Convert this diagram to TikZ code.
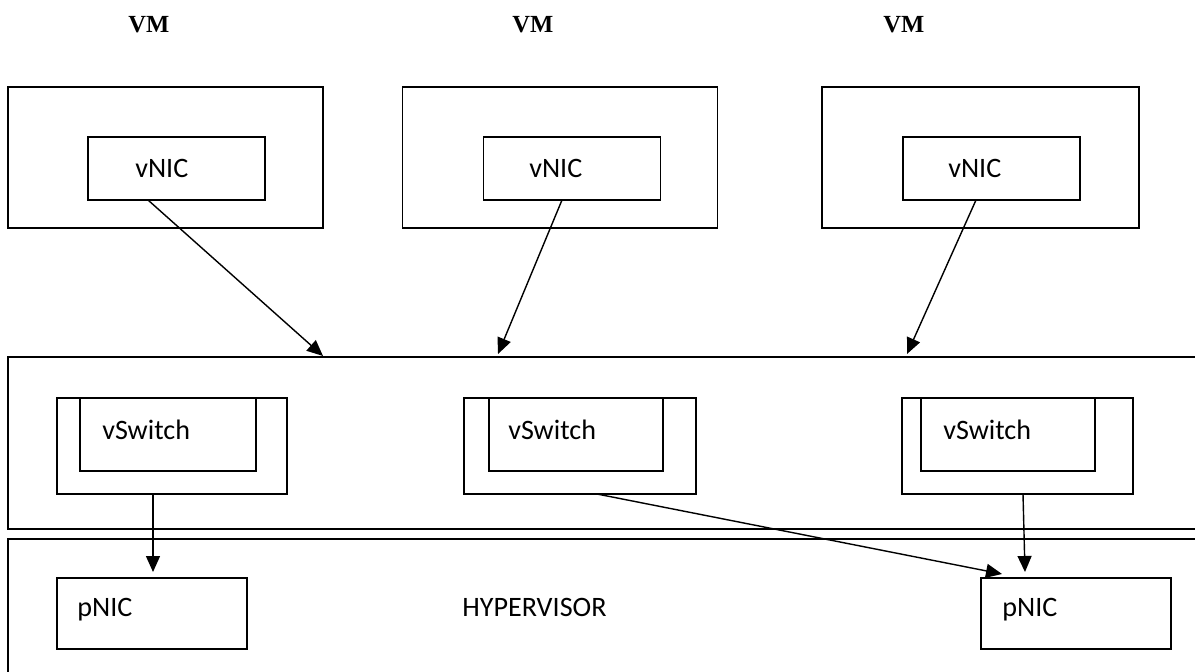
\documentclass[tikz,border=0pt]{standalone}
\usepackage{fontspec}
\setmainfont{Carlito}
\newfontfamily\vmfont{Liberation Serif}
\usetikzlibrary{arrows.meta}

\tikzset{
    box/.style = {draw, shape = rectangle, line width = 1pt, inner sep = 0pt, outer sep = 0pt},
    txt/.style = {anchor = base west, inner sep = 0pt, font = \fontsize{16}{19}\selectfont},
    vmtxt/.style = {anchor = base west, inner sep = 0pt, font = \vmfont\bfseries\fontsize{14}{17}\selectfont},
    arrow/.style = {line width = 0.8pt, -{Triangle[length = 3.2mm, width = 2.8mm]}}
}

\begin{document}
\begin{tikzpicture}
    \useasboundingbox (0,0) rectangle (23.9,-13.42);
    \clip (0,0) rectangle (23.9,-13.42);

    % virtual machines
    \node (VM1) [vmtxt] at (2.56,-0.64) {VM};
    \node (VM2) [vmtxt] at (10.24,-0.64) {VM};
    \node (VM3) [vmtxt] at (17.66,-0.64) {VM};
    \node [box, minimum width = 6.3cm, minimum height = 2.82cm] (vm1) at (3.31,-3.15) {};
    \node [box, minimum width = 6.3cm, minimum height = 2.82cm] (vm2) at (11.2,-3.15) {};
    \node [box, minimum width = 6.34cm, minimum height = 2.82cm] (vm3) at (19.61,-3.15) {};
    \node [box, minimum width = 3.54cm, minimum height = 1.26cm] (vnic1) at (3.53,-3.37) {};
    \node (NIC1) [txt] at (2.7,-3.54) {vNIC};
    \node [box, minimum width = 3.54cm, minimum height = 1.26cm] (vnic2) at (11.44,-3.37) {};
    \node (NIC2) [txt] at (10.58,-3.54) {vNIC};
    \node [box, minimum width = 3.54cm, minimum height = 1.26cm] (vnic3) at (19.83,-3.37) {};
    \node (NIC3) [txt] at (18.96,-3.54) {vNIC};

    % switch layer
    \node [box, minimum width = 24.14cm, minimum height = 3.44cm] (host) at (12.23,-8.86) {};
    \node [box, minimum width = 4.6cm, minimum height = 1.92cm] (sw1) at (3.44,-8.92) {};
    \node [box, minimum width = 3.52cm, minimum height = 1.46cm] (isw1) at (3.36,-8.69) {};
    \node (SW1) [txt] at (2.04,-8.78) {vSwitch};
    \node [box, minimum width = 4.64cm, minimum height = 1.92cm] (sw2) at (11.6,-8.92) {};
    \node [box, minimum width = 3.48cm, minimum height = 1.46cm] (isw2) at (11.52,-8.69) {};
    \node (SW2) [txt] at (10.16,-8.78) {vSwitch};
    \node [box, minimum width = 4.62cm, minimum height = 1.92cm] (sw3) at (20.35,-8.92) {};
    \node [box, minimum width = 3.48cm, minimum height = 1.46cm] (isw3) at (20.16,-8.69) {};
    \node (SW3) [txt] at (18.86,-8.78) {vSwitch};

    % hypervisor
    \node [box, minimum width = 24.14cm, minimum height = 3.22cm] (hyper) at (12.23,-12.39) {};
    \node (HV) [txt] at (9.24,-12.32) {HYPERVISOR};
    \node [box, minimum width = 3.8cm, minimum height = 1.42cm] (pnic1) at (3.04,-12.27) {};
    \node (P1) [txt] at (1.54,-12.32) {pNIC};
    \node [box, minimum width = 3.8cm, minimum height = 1.42cm] (pnic2) at (21.52,-12.27) {};
    \node (P2) [txt] at (20.04,-12.32) {pNIC};

    \coordinate (t1) at (6.46,-7.12);
    \coordinate (t2) at (9.96,-7.08);
    \coordinate (t3) at (18.14,-7.08);
    \coordinate (t4) at (3.06,-11.44);
    \coordinate (t5) at (20.04,-11.48);
    \coordinate (t6) at (20.5,-11.44);

    \draw [arrow] ([xshift = -0.57cm]vnic1.south) to (t1);
    \draw [arrow] ([xshift = -0.2cm]vnic2.south) to (t2);
    \draw [arrow] ([xshift = -0.31cm]vnic3.south) to (t3);
    \draw [arrow] ([xshift = -0.38cm]sw1.south) to (t4);
    \draw [arrow] ([xshift = 0.34cm]sw2.south) to (t5);
    \draw [arrow] ([xshift = 0.11cm]sw3.south) to (t6);
\end{tikzpicture}
\end{document}
